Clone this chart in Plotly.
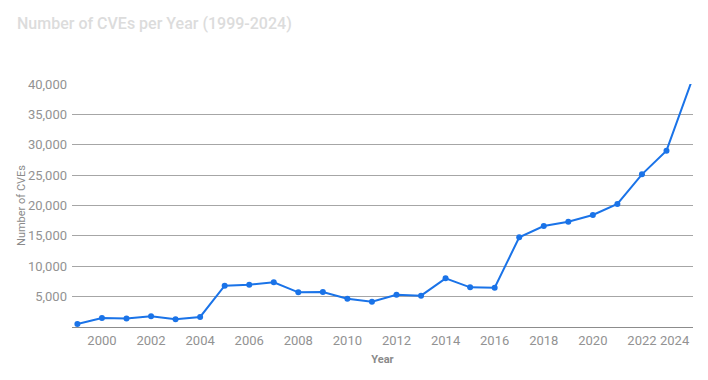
import plotly.graph_objects as go

years = list(range(1999, 2025))
cves = [500, 1480, 1380, 1750, 1260, 1650, 6800, 6970, 7350, 5700, 5760, 4660,
        4170, 5320, 5160, 8010, 6530, 6470, 14760, 16630, 17340, 18440, 20250,
        25130, 29030, 40200]

y_ticks = [5000, 10000, 15000, 20000, 25000, 30000, 35000, 40000]
y_tick_labels = [f"{v:,}" for v in y_ticks]
x_ticks = list(range(2000, 2023, 2))
last_year_label = 2024  # drawn right-aligned at the plot edge, as in the reference

# page has an 8px body margin, so the figure is drawn 8px in from the corner
W, H = 700, 372
tick_color = "#929292"

fig = go.Figure()
fig.add_trace(go.Scatter(
    x=years, y=cves, mode="lines+markers",
    line=dict(color="#1a73e8", width=2),
    marker=dict(color="#1a73e8", size=6),
    cliponaxis=False,
    name="CVEs",
))

fig.add_annotation(
    x=last_year_label, xref="x", y=0, yref="paper",
    text=str(last_year_label), showarrow=False,
    xanchor="right", yanchor="middle", xshift=1, yshift=-13,
    font=dict(size=13, color=tick_color),
)

fig.update_layout(
    width=W, height=H,
    margin=dict(l=62, r=15, t=76, b=53),
    paper_bgcolor="white", plot_bgcolor="white",
    showlegend=False,
    font=dict(family="Roboto, Arial, sans-serif", color="#757575"),
    title=dict(
        text="Number of CVEs per Year (1999-2024)",
        font=dict(family="Roboto, Arial, sans-serif", size=16, color="#dcdcdc", weight=500),
        xref="container", yref="container",
        x=9 / W, xanchor="left",
        y=1 - 15 / H, yanchor="middle",
    ),
    xaxis=dict(
        range=[1998.78, 2024.08],
        tickvals=x_ticks,
        showgrid=False, zeroline=False, showline=False,
        ticks="",
        tickfont=dict(size=13, color=tick_color),
        ticklabelstandoff=4,
        automargin=False,
        title=dict(text="Year", font=dict(size=11, color="#8a8a8a", weight="bold"), standoff=8),
    ),
    yaxis=dict(
        range=[0, 40000],
        tickvals=y_ticks, ticktext=y_tick_labels,
        showgrid=True, gridcolor="#a6a6a6", gridwidth=1,
        zeroline=True, zerolinecolor="#8c8c8c", zerolinewidth=1,
        showline=False, ticks="",
        tickfont=dict(size=13, color=tick_color),
        ticklabelstandoff=4,
        title=dict(text="Number of CVEs", font=dict(size=11, color="#8a8a8a"), standoff=0),
    ),
)

fig.write_html("out.html")
